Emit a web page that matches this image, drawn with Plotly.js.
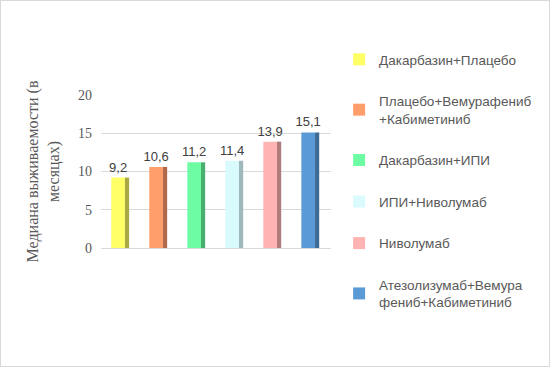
<!DOCTYPE html>
<html><head><meta charset="utf-8">
<script src="https://cdn.plot.ly/plotly-3.0.1.min.js"></script>
<style>
html,body{margin:0;padding:0;background:#fff;}
#chart{width:548px;height:365px;border:1px solid #d9d9d9;}
</style></head>
<body><div id="chart"></div>
<script>
const seriesNames = ["Дакарбазин+Плацебо","Плацебо+Вемурафениб<br>+Кабиметиниб","Дакарбазин+ИПИ","ИПИ+Ниволумаб","Ниволумаб","Атезолизумаб+Вемура<br>фениб+Кабиметиниб"];
const values = [9.2, 10.6, 11.2, 11.4, 13.9, 15.1];
const labels = ["9,2","10,6","11,2","11,4","13,9","15,1"];
const frontColors = ["#ffff66","#ff9e6b","#6dfca3","#d9fbfd","#ffb3b3","#5b9bd5"];
const sideColors = ["#aaaa44","#b0694a","#48b06f","#9fb8ba","#b07b7b","#3d6b96"];

const traces = [];
seriesNames.forEach((n,i)=>{
  traces.push({type:"bar", x:[i], y:[values[i]], name:n, legendgroup:"g"+i,
    marker:{color:frontColors[i], line:{width:0}}, width:0.36,
    text:[labels[i]], textposition:"outside", cliponaxis:false, constraintext:"none",
    textfont:{family:"Liberation Sans, Arial, sans-serif", size:13, color:"#404040"},
    hoverinfo:"skip"});
});
seriesNames.forEach((n,i)=>{
  traces.push({type:"bar", x:[i], y:[values[i]], name:n+"_side", showlegend:false,
    marker:{color:sideColors[i], line:{width:0}}, width:0.11, offset:0.18,
    hoverinfo:"skip"});
});

const layout = {
  width:548, height:365, barmode:"overlay",
  margin:{l:100, r:218, t:94, b:118},
  paper_bgcolor:"#fff", plot_bgcolor:"#fff",
  showlegend:true, uniformtext:{mode:false},
  xaxis:{visible:true, showticklabels:false, showgrid:false, zeroline:false, showline:false, ticks:"", range:[-0.45,5.6]},
  yaxis:{range:[0,20], dtick:5, showgrid:true, gridcolor:"#d9d9d9", gridwidth:1, zeroline:true, zerolinecolor:"#d9d9d9",
    showline:false, ticks:"", ticklabelstandoff:8,
    tickfont:{family:"Liberation Serif, Times New Roman, serif", size:14, color:"#595959"},
    title:{text:"Медиана выживаемости (в<br>месяцах)", standoff:14,
      font:{family:"Liberation Serif, Times New Roman, serif", size:16, color:"#595959"}}},
  legend:{xref:"container", yref:"container", x:0.617, y:0.882, xanchor:"left", yanchor:"top",
    font:{family:"Liberation Sans, Arial, sans-serif", size:13.5, color:"#595959"},
    tracegroupgap:21, itemwidth:30, maxheight:360, bgcolor:"rgba(0,0,0,0)"}
};
Plotly.newPlot("chart", traces, layout, {displayModeBar:false, staticPlot:true});
</script></body></html>
